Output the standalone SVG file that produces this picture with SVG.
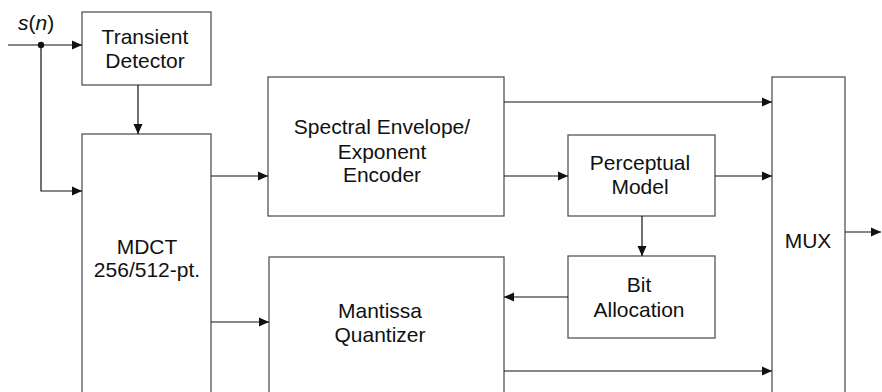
<svg xmlns="http://www.w3.org/2000/svg" width="882" height="392" viewBox="0 0 882 392">
<style>
.box{fill:#fff;stroke:#555;stroke-width:1.3}
.t{font-family:"Liberation Sans",Arial,sans-serif;font-size:21px;fill:#111;text-anchor:middle}
.c{fill:none;stroke:#111;stroke-width:1.2}
</style>
<defs>
<marker id="ah" markerUnits="userSpaceOnUse" markerWidth="11" markerHeight="10" refX="10" refY="5" orient="auto">
<path d="M0,0.5 L10,5 L0,9.5 z" fill="#111"/>
</marker>
</defs>
<g id="input-label">
<text x="18" y="30" font-family="Liberation Sans,Arial,sans-serif" font-size="21" fill="#111"><tspan font-style="italic">s</tspan>(<tspan font-style="italic">n</tspan>)</text>
</g>
<g id="transient">
<rect class="box" x="82" y="12" width="129" height="73"/>
<text class="t" x="145" y="44">Transient</text>
<text class="t" x="145" y="68">Detector</text>
</g>
<g id="mdct">
<rect class="box" x="82" y="134" width="129" height="270"/>
<text class="t" x="147" y="254">MDCT</text>
<text class="t" x="147" y="277">256/512-pt.</text>
</g>
<g id="spectral">
<rect class="box" x="268" y="77" width="236" height="139"/>
<text class="t" x="382" y="134">Spectral Envelope/</text>
<text class="t" x="382" y="159">Exponent</text>
<text class="t" x="382" y="182">Encoder</text>
</g>
<g id="perceptual">
<rect class="box" x="568" y="135" width="147" height="81"/>
<text class="t" x="640" y="170">Perceptual</text>
<text class="t" x="640" y="194">Model</text>
</g>
<g id="bitalloc">
<rect class="box" x="568" y="256" width="147" height="82"/>
<text class="t" x="639" y="292">Bit</text>
<text class="t" x="639" y="317">Allocation</text>
</g>
<g id="mantissa">
<rect class="box" x="269" y="257" width="235" height="147"/>
<text class="t" x="380" y="318">Mantissa</text>
<text class="t" x="380" y="342">Quantizer</text>
</g>
<g id="mux">
<rect class="box" x="772" y="77" width="73" height="327"/>
<text class="t" x="808" y="248">MUX</text>
</g>
<g id="connectors">
<line class="c" x1="8" y1="45" x2="82" y2="45" marker-end="url(#ah)"/>
<circle cx="41" cy="45" r="3.2" fill="#111"/>
<polyline class="c" points="41,45 41,191 82,191" marker-end="url(#ah)"/>
<line class="c" x1="138" y1="85" x2="138" y2="134" marker-end="url(#ah)"/>
<line class="c" x1="211" y1="176" x2="268" y2="176" marker-end="url(#ah)"/>
<line class="c" x1="211" y1="322" x2="269" y2="322" marker-end="url(#ah)"/>
<line class="c" x1="504" y1="102" x2="772" y2="102" marker-end="url(#ah)"/>
<line class="c" x1="504" y1="176" x2="568" y2="176" marker-end="url(#ah)"/>
<line class="c" x1="715" y1="176" x2="772" y2="176" marker-end="url(#ah)"/>
<line class="c" x1="642" y1="216" x2="642" y2="256" marker-end="url(#ah)"/>
<line class="c" x1="568" y1="297" x2="504" y2="297" marker-end="url(#ah)"/>
<line class="c" x1="504" y1="371" x2="772" y2="371" marker-end="url(#ah)"/>
<line class="c" x1="845" y1="232" x2="881" y2="232" marker-end="url(#ah)"/>
</g>
</svg>
